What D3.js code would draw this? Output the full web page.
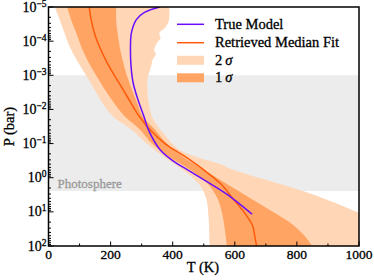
<!DOCTYPE html>
<html>
<head>
<meta charset="utf-8">
<script src="https://cdn.jsdelivr.net/npm/d3@7"></script>
<style>
  body { margin: 0; background: #fff; }
  svg { display: block; }
</style>
</head>
<body>
<svg id="chart" width="374" height="280"></svg>
<script>
// ---- data ----
// common log10 pressure grid for the retrieval bands / median
const gridLogP = [-5, -4.6, -4.2, -3.8, -3.4, -3.0, -2.6, -2.2, -1.8, -1.4, -1.0, -0.6, -0.2, 0.2, 0.6, 1.0, 1.4, 1.8, 2.0];
const lower2Sigma = [20, 37, 53, 70, 94, 121, 147, 173, 207, 269, 316, 373, 437, 486, 508, 514, 517, 518, 519];
const lower1Sigma = [60, 74, 91, 107, 128, 153, 180, 210, 245, 296, 333, 391, 462, 515, 544, 558, 566, 572, 575];
const medianT     = [131, 138, 149, 166, 187, 212, 239, 265, 292, 328, 375, 443, 504, 557, 593, 629, 657, 666, 670];
const upper1Sigma = [218, 218, 223, 230, 240, 252, 268, 285, 303, 344, 381, 435, 507, 577, 650, 722, 790, 834, 848];

// upper 2-sigma edge has its own (finer, irregular) pressure grid
const upper2LogP  = [-5, -4.62, -4.41, -4.24, -4.09, -3.95, -3.74, -3.62, -3.45, -3.24, -2.95, -2.77, -2.28, -1.78, -1.31, -0.81, -0.58, -0.43, -0.23, 0.07, 0.36, 0.71, 1.0, 1.3, 2.0];
const upper2Sigma = [389, 388, 377, 357, 361, 350, 340, 346, 335, 330, 320, 318, 321, 334, 369, 423, 487, 542, 595, 702, 809, 916, 992, 1060, 1150];

// true model profile
const trueLogP = [-5, -4.84, -4.63, -4.24, -3.74, -3.24, -2.76, -2.26, -1.75, -1.40, -0.81, -0.45, -0.21, 0.09, 0.48, 0.78, 1.07];
const trueT    = [358, 309, 283, 267, 264, 266, 273, 289, 309, 322, 360, 408, 452, 506, 574, 617, 656];

// photosphere region (bar)
const photosphere = [1e-3, 2.45];

// ticks
const xTicks = [0, 200, 400, 600, 800, 1000];
const yTickExps = [-5, -4, -3, -2, -1, 0, 1, 2];

const legendLabels = ["True Model", "Retrieved Median Fit", "2", "1"];

// ---- drawing ----
const FONT = "'Liberation Serif', 'Times New Roman', serif";
const svg = d3.select("#chart").style("font-family", FONT);
const x = d3.scaleLinear().domain([0, 1000]).range([48.5, 359]);
const y = d3.scaleLog().domain([1e-5, 1e2]).range([7, 246]);

const col = { light: "#FFD6B6", dark: "#FFA463", median: "#FF5A0A", truth: "#6A0DFF", band: "#ECECEC" };

svg.append("defs").append("clipPath").attr("id", "clip")
  .append("rect").attr("x", x(0)).attr("y", y(1e-5)).attr("width", x(1000) - x(0)).attr("height", y(1e2) - y(1e-5));

const plot = svg.append("g").attr("clip-path", "url(#clip)");

// photosphere band
plot.append("rect")
  .attr("x", x(0)).attr("width", x(1000) - x(0))
  .attr("y", y(photosphere[0])).attr("height", y(photosphere[1]) - y(photosphere[0]))
  .attr("fill", col.band);

const edge = (lps, ts) => lps.map((lp, i) => [x(ts[i]), y(Math.pow(10, lp))]);
const smooth = d3.line().curve(d3.curveCatmullRom.alpha(0.5));

// 2-sigma band: left edge downward, right edge upward
const l2 = edge(gridLogP, lower2Sigma);
const u2 = edge(upper2LogP, upper2Sigma).reverse();
plot.append("path")
  .attr("d", smooth(l2) + "L" + smooth(u2).slice(1) + "Z")
  .attr("fill", col.light);

// 1-sigma band
const l1 = edge(gridLogP, lower1Sigma);
const u1 = edge(gridLogP, upper1Sigma).reverse();
plot.append("path")
  .attr("d", smooth(l1) + "L" + smooth(u1).slice(1) + "Z")
  .attr("fill", col.dark);

// median
plot.append("path").attr("d", smooth(edge(gridLogP, medianT)))
  .attr("fill", "none").attr("stroke", col.median).attr("stroke-width", 1.5);

// true model
plot.append("path").attr("d", smooth(edge(trueLogP, trueT)))
  .attr("fill", "none").attr("stroke", col.truth).attr("stroke-width", 1.5);

// text helper: slight outline to mimic the heavier reference glyphs
const heavy = (sel, color) => sel.attr("fill", color).attr("stroke", color).attr("stroke-width", 0.3);

// photosphere label
heavy(svg.append("text").attr("x", 57.5).attr("y", 187.5).attr("font-size", 13).text("Photosphere"), "#9a9a9a");

// axes: x
const xAxis = svg.append("g").attr("transform", `translate(0,${y(1e2)})`);
const xMinor = d3.range(0, 1001, 100);
xAxis.selectAll("line").data(xMinor).join("line")
  .attr("x1", d => x(d)).attr("x2", d => x(d))
  .attr("y1", 0).attr("y2", d => (d % 200 === 0 ? -4.5 : -2.5))
  .attr("stroke", "#000").attr("stroke-width", 1);
heavy(xAxis.selectAll("text").data(xTicks).join("text")
  .attr("x", d => x(d)).attr("y", 12.5).attr("text-anchor", "middle")
  .attr("font-size", 13.5).text(d => d), "#000");

// axes: y
const yAxis = svg.append("g").attr("transform", `translate(${x(0)},0)`);
const yMinor = [];
for (let e = -5; e < 2; e++) for (let k = 1; k < 10; k++) yMinor.push({ v: k * Math.pow(10, e), major: k === 1 });
yMinor.push({ v: 100, major: true });
yAxis.selectAll("line").data(yMinor).join("line")
  .attr("y1", d => y(d.v)).attr("y2", d => y(d.v))
  .attr("x1", 0).attr("x2", d => (d.major ? 5 : 2.5))
  .attr("stroke", "#000").attr("stroke-width", 1);
const yLab = heavy(yAxis.selectAll("text").data(yTickExps).join("text")
  .attr("x", -2).attr("y", d => y(Math.pow(10, d)) + 4.5)
  .attr("text-anchor", "end").attr("font-size", 14), "#000");
yLab.append("tspan").text("10");
yLab.append("tspan").attr("dy", -5).attr("font-size", 9.5).text(d => (d < 0 ? "\u2212" + (-d) : String(d)));

// frame
svg.append("rect").attr("x", x(0)).attr("y", y(1e-5))
  .attr("width", x(1000) - x(0)).attr("height", y(1e2) - y(1e-5))
  .attr("fill", "none").attr("stroke", "#000").attr("stroke-width", 1.5);

// axis titles
heavy(svg.append("text").attr("x", 203).attr("y", 272).attr("text-anchor", "middle")
  .attr("font-size", 14.5).text("T (K)"), "#000");
heavy(svg.append("text").attr("transform", `translate(14,${(y(1e-5) + y(1e2)) / 2}) rotate(-90)`)
  .attr("text-anchor", "middle").attr("font-size", 14.5).text("P (bar)"), "#000");

// legend
const lg = svg.append("g");
const ly = [24.3, 42.7, 60.3, 77.8];
const lx0 = 177, lx1 = 204, tx = 215;
lg.append("line").attr("x1", lx0).attr("x2", lx1).attr("y1", ly[0]).attr("y2", ly[0]).attr("stroke", col.truth).attr("stroke-width", 1.5);
lg.append("line").attr("x1", lx0).attr("x2", lx1).attr("y1", ly[1]).attr("y2", ly[1]).attr("stroke", col.median).attr("stroke-width", 1.5);
lg.append("rect").attr("x", lx0).attr("width", lx1 - lx0).attr("y", ly[2] - 4.5).attr("height", 9).attr("fill", col.light);
lg.append("rect").attr("x", lx0).attr("width", lx1 - lx0).attr("y", ly[3] - 4.5).attr("height", 9).attr("fill", col.dark);
legendLabels.forEach((lab, i) => {
  const t = heavy(lg.append("text").attr("x", tx).attr("y", ly[i] + 4.5).attr("font-size", 14.5), "#000");
  t.append("tspan").text(lab);
  if (i >= 2) t.append("tspan").attr("dx", 3).attr("font-style", "italic").text("\u03C3");
});
</script>
</body>
</html>
